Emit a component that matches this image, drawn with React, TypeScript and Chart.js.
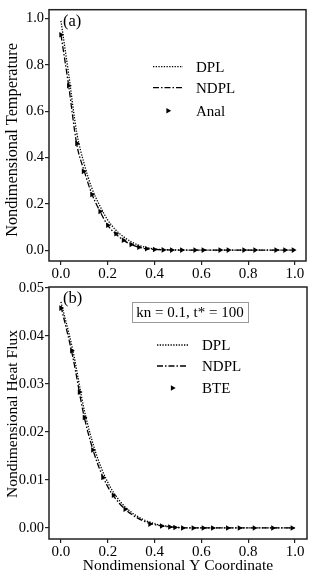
import { useEffect, useRef } from "react";
import { Chart, registerables } from "chart.js";

Chart.register(...registerables);

const FONT = '"Liberation Serif", "Times New Roman", Times, serif';

// ---------- Panel (a): Nondimensional Temperature ----------
const tempCurveX = [0, 0.033, 0.067, 0.1, 0.133, 0.167, 0.2, 0.233, 0.267, 0.3, 0.333, 0.367, 0.4, 0.45, 0.5, 0.6, 0.7, 0.8, 0.9, 1.0];
const tempDPL = [0.99, 0.76, 0.51, 0.37, 0.265, 0.19, 0.13, 0.088, 0.058, 0.036, 0.021, 0.011, 0.005, 0.002, 0.0005, 0, 0, 0, 0, 0];
const tempNDPL = [0.93, 0.71, 0.46, 0.34, 0.24, 0.167, 0.107, 0.071, 0.043, 0.024, 0.012, 0.006, 0.003, 0.001, 0, 0, 0, 0, 0, 0];
const tempAnalX = [0, 0.033, 0.068, 0.096, 0.132, 0.167, 0.2, 0.235, 0.267, 0.3, 0.333, 0.366, 0.4, 0.437, 0.473, 0.516, 0.573, 0.608, 0.68, 0.715, 0.782, 0.829, 0.919, 0.957, 0.993];
const tempAnalY = [0.93, 0.71, 0.46, 0.34, 0.24, 0.167, 0.107, 0.071, 0.043, 0.024, 0.012, 0.006, 0.003, 0.001, 0, 0, 0, 0, 0, 0, 0, 0, 0, 0, 0];

// ---------- Panel (b): Nondimensional Heat Flux ----------
const fluxCurveX = [0, 0.05, 0.1, 0.15, 0.2, 0.25, 0.3, 0.35, 0.4, 0.45, 0.5, 0.6, 0.7, 0.8, 0.9, 1.0];
const fluxDPL = [0.0471, 0.0372, 0.0245, 0.0155, 0.0095, 0.0057, 0.0033, 0.0018, 0.0009, 0.0004, 0.0001, 0, 0, 0, 0, 0];
const fluxNDPL = [0.0462, 0.0358, 0.023, 0.0143, 0.0086, 0.0051, 0.0029, 0.0015, 0.0007, 0.0003, 0.0001, 0, 0, 0, 0, 0];
const fluxBTEX = [0, 0.046, 0.079, 0.1, 0.136, 0.179, 0.224, 0.274, 0.38, 0.43, 0.465, 0.487, 0.52, 0.565, 0.608, 0.648, 0.712, 0.762, 0.826, 0.905, 0.988];
const fluxBTEY = [0.0458, 0.0369, 0.0283, 0.023, 0.01625, 0.0105, 0.0068, 0.0039, 0.0008, 0.0004, 0.0002, 0.0001, 0, 0, 0, 0, 0, 0, 0, 0, 0];

// ---------- Ticks, labels ----------
const xTickValues = [0, 0.2, 0.4, 0.6, 0.8, 1.0];
const tempTickValues = [0, 0.2, 0.4, 0.6, 0.8, 1.0];
const fluxTickValues = [0, 0.01, 0.02, 0.03, 0.04, 0.05];
const legendA = ["DPL", "NDPL", "Anal"];
const legendB = ["DPL", "NDPL", "BTE"];
const infoText = "kn = 0.1, t* = 100";
const yTitleA = "Nondimensional Temperature";
const yTitleB = "Nondimensional Heat Flux";
const xTitleB = "Nondimensional Y Coordinate";

const toPts = (xs: number[], ys: number[]) => xs.map((x, i) => ({ x, y: ys[i] }));

const overlayPlugin = {
  id: "overlay",
  afterDraw(chart: any, _args: any, opts: any) {
    const { ctx, chartArea: a } = chart;
    ctx.save();
    ctx.setLineDash([]);
    ctx.strokeStyle = "#222";
    ctx.lineWidth = 1.5;
    ctx.strokeRect(a.left, a.top, a.right - a.left, a.bottom - a.top);

    // y-axis title (rotated)
    ctx.save();
    ctx.translate(opts.yTitle.x, opts.yTitle.y);
    ctx.rotate(-Math.PI / 2);
    ctx.fillStyle = "#000";
    ctx.textAlign = "center";
    ctx.textBaseline = "middle";
    ctx.font = `${opts.yTitle.size}px ${FONT}`;
    ctx.fillText(opts.yTitle.text, 0, 0);
    ctx.restore();

    ctx.fillStyle = "#000";
    ctx.textAlign = "left";
    ctx.textBaseline = "middle";
    ctx.font = `16.5px ${FONT}`;
    ctx.fillText(opts.tag, a.left + 14, a.top + 12);

    if (opts.info) {
      const bx = a.left + opts.info.x;
      const by = a.top + opts.info.y;
      ctx.strokeStyle = "#9a9a9a";
      ctx.lineWidth = 1;
      ctx.strokeRect(bx + 0.5, by + 0.5, opts.info.w, opts.info.h);
      ctx.font = `15px ${FONT}`;
      ctx.textAlign = "center";
      ctx.fillStyle = "#000";
      ctx.fillText(opts.info.text, bx + opts.info.w / 2, by + opts.info.h / 2 + 1);
    }

    const lg = opts.legend;
    ctx.font = `15px ${FONT}`;
    ctx.textAlign = "left";
    lg.labels.forEach((label: string, i: number) => {
      const ds = chart.data.datasets[i];
      const y = a.top + lg.rows[i];
      const x0 = a.left + lg.x0;
      const x1 = a.left + lg.x1;
      if (ds.showLine === false) {
        const cx = (x0 + x1) / 2;
        const r = ds.pointRadius;
        ctx.beginPath();
        ctx.moveTo(cx + r, y);
        ctx.lineTo(cx - r * 0.5, y - r * 0.866);
        ctx.lineTo(cx - r * 0.5, y + r * 0.866);
        ctx.closePath();
        ctx.fillStyle = "#000";
        ctx.fill();
      } else {
        ctx.strokeStyle = ds.borderColor;
        ctx.lineWidth = ds.borderWidth;
        ctx.setLineDash(ds.borderDash || []);
        ctx.beginPath();
        ctx.moveTo(x0, y);
        ctx.lineTo(x1, y);
        ctx.stroke();
        ctx.setLineDash([]);
      }
      ctx.fillStyle = "#000";
      ctx.fillText(label, a.left + lg.tx, y + 1);
    });
    ctx.restore();
  },
};

function makeChart(canvas: HTMLCanvasElement, p: any) {
  return new Chart(canvas, {
    type: "scatter",
    data: {
      datasets: [
        {
          label: p.labels[0],
          data: p.dpl,
          showLine: true,
          borderColor: "#000",
          borderWidth: 1.3,
          borderDash: [1.3, 1.4],
          pointRadius: 0,
          cubicInterpolationMode: "monotone",
          order: 2,
        },
        {
          label: p.labels[1],
          data: p.ndpl,
          showLine: true,
          borderColor: "#000",
          borderWidth: 1.3,
          borderDash: [6, 2, 1.5, 2],
          pointRadius: 0,
          cubicInterpolationMode: "monotone",
          order: 1,
        },
        {
          label: p.labels[2],
          data: p.marks,
          showLine: false,
          pointStyle: "triangle",
          pointRotation: 90,
          pointRadius: 3.2,
          pointBackgroundColor: "#000",
          pointBorderColor: "#000",
          pointBorderWidth: 0,
          order: 0,
        },
      ],
    },
    options: {
      animation: false,
      responsive: false,
      maintainAspectRatio: false,
      devicePixelRatio: 1,
      layout: { padding: p.padding },
      plugins: {
        legend: { display: false },
        tooltip: { enabled: false },
        overlay: p.overlay,
      } as any,
      scales: {
        x: {
          type: "linear",
          min: p.xMin,
          max: p.xMax,
          afterBuildTicks: (s: any) => {
            s.ticks = xTickValues.map((v) => ({ value: v }));
          },
          afterFit: (s: any) => {
            s.height = p.xAxisHeight;
          },
          border: { display: false },
          grid: { drawOnChartArea: false, drawTicks: true, tickLength: 4, color: "#222", lineWidth: 1.2 },
          ticks: {
            padding: p.xTickPad,
            color: "#000",
            font: { family: FONT, size: 15 },
            maxRotation: 0,
            callback: (v: any) => Number(v).toFixed(1),
          },
          title: p.xTitle
            ? { display: true, text: p.xTitle, color: "#000", font: { family: FONT, size: 15.5 }, padding: { top: 0, bottom: -1 } }
            : { display: false },
        },
        y: {
          type: "linear",
          min: p.yMin,
          max: p.yMax,
          afterBuildTicks: (s: any) => {
            s.ticks = p.yTicks.map((v: number) => ({ value: v }));
          },
          afterFit: (s: any) => {
            s.width = 49;
          },
          border: { display: false },
          grid: { drawOnChartArea: false, drawTicks: true, tickLength: 4, color: "#222", lineWidth: 1.2 },
          ticks: {
            padding: 1,
            color: "#000",
            font: { family: FONT, size: 14.5 },
            callback: (v: any) => Number(v).toFixed(p.yDigits),
          },
          title: { display: false },
        },
      },
    },
    plugins: [overlayPlugin],
  } as any);
}

export default function App() {
  const refA = useRef<HTMLCanvasElement>(null);
  const refB = useRef<HTMLCanvasElement>(null);

  useEffect(() => {
    const chartA = makeChart(refA.current!, {
      labels: legendA,
      dpl: toPts(tempCurveX, tempDPL),
      ndpl: toPts(tempCurveX, tempNDPL),
      marks: toPts(tempAnalX, tempAnalY),
      padding: { left: 0, right: 6, top: 7, bottom: 0 },
      xMin: -0.051,
      xMax: 1.047,
      xAxisHeight: 19,
      xTickPad: 0,
      xTitle: null,
      yMin: -0.047,
      yMax: 1.038,
      yTicks: tempTickValues,
      yDigits: 1,
      overlay: {
        tag: "(a)",
        yTitle: { text: yTitleA, x: 13, y: 140, size: 16.3 },
        legend: { labels: legendA, x0: 104, x1: 134, tx: 147, rows: [57, 78, 101] },
      },
    });
    const chartB = makeChart(refB.current!, {
      labels: legendB,
      dpl: toPts(fluxCurveX, fluxDPL),
      ndpl: toPts(fluxCurveX, fluxNDPL),
      marks: toPts(fluxBTEX, fluxBTEY),
      padding: { left: 0, right: 5, top: 11, bottom: 0 },
      xMin: -0.051,
      xMax: 1.051,
      xAxisHeight: 35,
      xTickPad: 0,
      xTitle: xTitleB,
      yMin: -0.0023,
      yMax: 0.0502,
      yTicks: fluxTickValues,
      yDigits: 2,
      overlay: {
        tag: "(b)",
        yTitle: { text: yTitleB, x: 13, y: 414 - 276, size: 15.5 },
        info: { text: infoText, x: 83, y: 15, w: 116, h: 20 },
        legend: { labels: legendB, x0: 108, x1: 139, tx: 153, rows: [58, 79, 101] },
      },
    });
    return () => {
      chartA.destroy();
      chartB.destroy();
    };
  }, []);

  return (
    <div style={{ position: "absolute", left: 0, top: 0, width: 312, height: 574, background: "#fff", overflow: "hidden" }}>
      <canvas ref={refA} width={312} height={280} style={{ position: "absolute", left: 0, top: 0, width: 312, height: 280 }} />
      <canvas ref={refB} width={312} height={298} style={{ position: "absolute", left: 0, top: 276, width: 312, height: 298 }} />
    </div>
  );
}
